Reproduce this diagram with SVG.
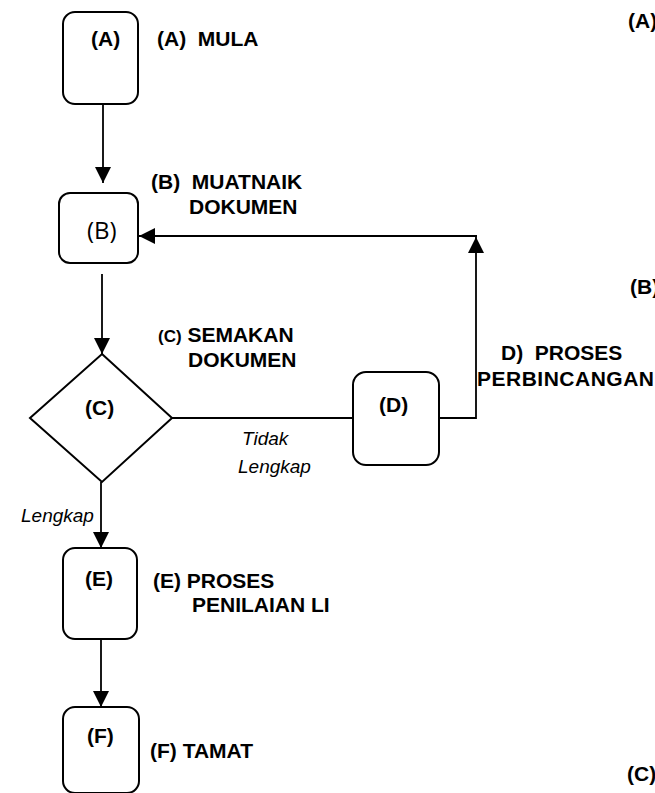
<svg xmlns="http://www.w3.org/2000/svg" width="655" height="793" viewBox="0 0 655 793">
<defs>
<style>
.box{fill:#fff;stroke:#000;stroke-width:2}
.ln{fill:none;stroke:#000;stroke-width:1.8}
.b{font-family:"Liberation Sans",Arial,sans-serif;font-weight:bold;font-size:21px;fill:#000}
.i{font-family:"Liberation Sans",Arial,sans-serif;font-style:italic;font-size:19px;fill:#000}
.o{font-family:"Open Sans",sans-serif;font-size:24px;fill:#000}
</style>
<marker id="ah" viewBox="0 0 16 16" refX="16" refY="8" markerWidth="16" markerHeight="16" markerUnits="userSpaceOnUse" orient="auto">
<path d="M0,0 L16,8 L0,16 Z" fill="#000"/>
</marker>
</defs>
<rect width="655" height="793" fill="#fff"/>
<g id="connectors">
<line class="ln" x1="103" y1="104" x2="103" y2="183" marker-end="url(#ah)"/>
<line class="ln" x1="102" y1="274" x2="102" y2="354" marker-end="url(#ah)"/>
<line class="ln" x1="172" y1="418" x2="353" y2="418"/>
<polyline class="ln" points="439,418 476,418 476,237" marker-end="url(#ah)"/>
<line class="ln" x1="477" y1="236" x2="139" y2="236" marker-end="url(#ah)"/>
<line class="ln" x1="101" y1="482" x2="101" y2="548" marker-end="url(#ah)"/>
<line class="ln" x1="101" y1="639" x2="101" y2="707" marker-end="url(#ah)"/>
<text class="i" x="242" y="445">Tidak</text>
<text class="i" x="238" y="473">Lengkap</text>
<text class="i" x="21" y="522">Lengkap</text>
</g>
<g id="nodeA">
<rect class="box" x="63" y="12" width="75" height="92" rx="12"/>
<text class="b" x="91" y="46">(A)</text>
<text class="b" x="157" y="46" xml:space="preserve">(A)  MULA</text>
</g>
<g id="nodeB">
<rect class="box" x="59" y="193" width="79" height="70" rx="11"/>
<text class="o" x="87" y="239">(B)</text>
<text class="b" x="151" y="189" xml:space="preserve">(B)  MUATNAIK</text>
<text class="b" x="189" y="214">DOKUMEN</text>
</g>
<g id="nodeC">
<polygon class="box" points="102,354 172,418 102,482 30,418"/>
<text class="b" x="85" y="415">(C)</text>
<text class="b" x="158" y="342"><tspan font-size="17">(C)</tspan> SEMAKAN</text>
<text class="b" x="188" y="367">DOKUMEN</text>
</g>
<g id="nodeD">
<rect class="box" x="353" y="372" width="86" height="93" rx="13"/>
<text class="b" x="379" y="412">(D)</text>
<text class="b" x="501" y="360" xml:space="preserve">D)  PROSES</text>
<text class="b" x="477" y="386" textLength="177" lengthAdjust="spacing">PERBINCANGAN</text>
</g>
<g id="nodeE">
<rect class="box" x="63" y="548" width="74" height="91" rx="12"/>
<text class="b" x="85" y="586">(E)</text>
<text class="b" x="153" y="588">(E) PROSES</text>
<text class="b" x="192" y="612">PENILAIAN LI</text>
</g>
<g id="nodeF">
<rect class="box" x="63" y="707" width="76" height="86" rx="12"/>
<text class="b" x="87" y="743">(F)</text>
<text class="b" x="150" y="758">(F) TAMAT</text>
</g>
<g id="edge-labels">
<text class="b" x="628" y="28">(A)</text>
<text class="b" x="630" y="294">(B)</text>
<text class="b" x="627" y="781" font-size="17">(C)</text>
</g>
</svg>
